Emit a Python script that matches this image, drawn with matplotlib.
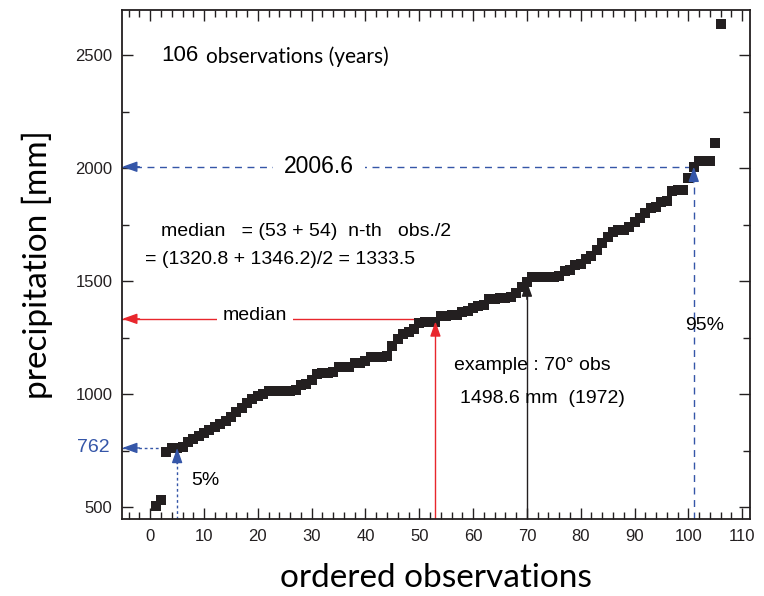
import numpy as np
import matplotlib.pyplot as plt
from matplotlib.ticker import MultipleLocator

plt.rcParams['font.family'] = ['Liberation Sans', 'DejaVu Sans']

# ordered annual precipitation (mm)
precip = [505, 530, 745, 762, 762, 765, 790, 800, 815, 830,
          840, 855, 870, 880, 900, 920, 940, 960, 980, 990,
          1000, 1015, 1015, 1015, 1015, 1015, 1020, 1040, 1045, 1065,
          1090, 1095, 1095, 1100, 1120, 1120, 1120, 1140, 1140, 1145,
          1165, 1165, 1165, 1170, 1215, 1245, 1265, 1275, 1290, 1315,
          1320, 1320.8, 1320.8, 1346.2, 1346.2, 1350, 1350, 1365, 1370, 1380,
          1390, 1395, 1420, 1420, 1425, 1425, 1430, 1450, 1475, 1498.6,
          1518, 1518, 1518, 1520, 1520, 1525, 1545, 1550, 1570, 1575,
          1600, 1610, 1640, 1670, 1695, 1720, 1725, 1725, 1740, 1760,
          1780, 1800, 1825, 1830, 1850, 1855, 1900, 1905, 1905, 1955,
          2006.6, 2030, 2030, 2032, 2110, 2640]
obs = np.arange(1, len(precip) + 1)

q05_obs, q05_val = 5, 762
q95_obs, q95_val = 101, 2006.6
med_obs, med_val = 53, 1333.5
ex_obs, ex_val = 70, 1498.6

blue = '#3556a8'
red = '#e8262c'
ink = '#231f20'
big_font = 'Lato'

fig = plt.figure(figsize=(7.64, 5.96), dpi=100)
ax = fig.add_axes([0.16, 0.129, 0.822, 0.854])
xmin, ymin = -5.2, 447
ax.set_xlim(xmin, 111.5)
ax.set_ylim(ymin, 2700)

ax.plot(obs, precip, 's', color=ink, markersize=6.6, markeredgewidth=0, zorder=5)

def arrow_head(x0, y0, x1, y1, color):
    ax.annotate('', xy=(x1, y1), xytext=(x0, y0),
                arrowprops=dict(arrowstyle='-|>,head_length=0.9,head_width=0.32',
                                color=color, lw=1, shrinkA=0, shrinkB=0), zorder=6)

# 95% quantile
ax.plot([xmin, q95_obs], [q95_val, q95_val], color=blue, lw=1, dashes=(5, 4))
ax.plot([q95_obs, q95_obs], [ymin, q95_val], color=blue, lw=1, dashes=(5, 4))
arrow_head(-2, q95_val, xmin, q95_val, blue)
arrow_head(q95_obs, q95_val - 70, q95_obs, q95_val, blue)
ax.text(31.4, q95_val, '2006.6', fontsize=16.5, ha='center', va='center',
        bbox=dict(facecolor='white', edgecolor='none', pad=8))
ax.text(103, 1305, '95%', fontsize=14, ha='center', va='center')

# 5% quantile
ax.plot([xmin, q05_obs], [q05_val, q05_val], color=blue, lw=1, dashes=(2, 2))
ax.plot([q05_obs, q05_obs], [ymin, q05_val], color=blue, lw=1, dashes=(2, 2))
arrow_head(-2, q05_val, xmin, q05_val, blue)
arrow_head(q05_obs, q05_val - 70, q05_obs, q05_val, blue)
ax.text(-7.5, q05_val, '762', fontsize=14, color=blue, ha='right', va='center',
        clip_on=False)
ax.text(10.2, 620, '5%', fontsize=14, ha='center', va='center')

# median
ax.plot([xmin, med_obs], [med_val, med_val], color=red, lw=1)
ax.plot([med_obs, med_obs], [ymin, 1322], color=red, lw=1)
arrow_head(-2, med_val, xmin, med_val, red)
arrow_head(med_obs, 1260, med_obs, 1322, red)
ax.text(19.5, med_val + 15, 'median', fontsize=14, ha='center', va='center',
        bbox=dict(facecolor='white', edgecolor='none', pad=4))
ax.text(2, 1722, 'median   = (53 + 54)  n-th   obs./2', fontsize=14,
        ha='left', va='center')
ax.text(-1, 1595, '= (1320.8 + 1346.2)/2 = 1333.5', fontsize=14,
        ha='left', va='center')

# example observation
ax.plot([ex_obs, ex_obs], [ymin, 1480], color=ink, lw=1)
arrow_head(ex_obs, 1420, ex_obs, ex_val, ink)
ax.text(56.5, 1125, 'example : 70° obs', fontsize=14, ha='left', va='center')
ax.text(57.5, 980, '1498.6 mm  (1972)', fontsize=14, ha='left', va='center')

# header
ax.text(2, 2500, '106', fontsize=16, ha='left', va='center')
ax.text(10.3, 2496, 'observations (years)', fontsize=15, ha='left', va='center',
        family=big_font)

ax.set_xticks(np.arange(0, 111, 10))
ax.set_yticks(np.arange(500, 2501, 500))
ax.xaxis.set_minor_locator(MultipleLocator(2))
ax.yaxis.set_minor_locator(MultipleLocator(250))
ax.tick_params(which='both', direction='in', top=True, right=True, width=1,
               labelsize=12, colors=ink, pad=7)
ax.tick_params(which='major', length=8)
ax.tick_params(which='minor', length=5)
for s in ax.spines.values():
    s.set_linewidth(1.3)
    s.set_color(ink)

ax.set_xlabel('ordered observations', fontsize=24, family=big_font, labelpad=14)
ax.set_ylabel('precipitation [mm]', fontsize=24, family=big_font, labelpad=16)

plt.savefig('out.png', dpi=100)
